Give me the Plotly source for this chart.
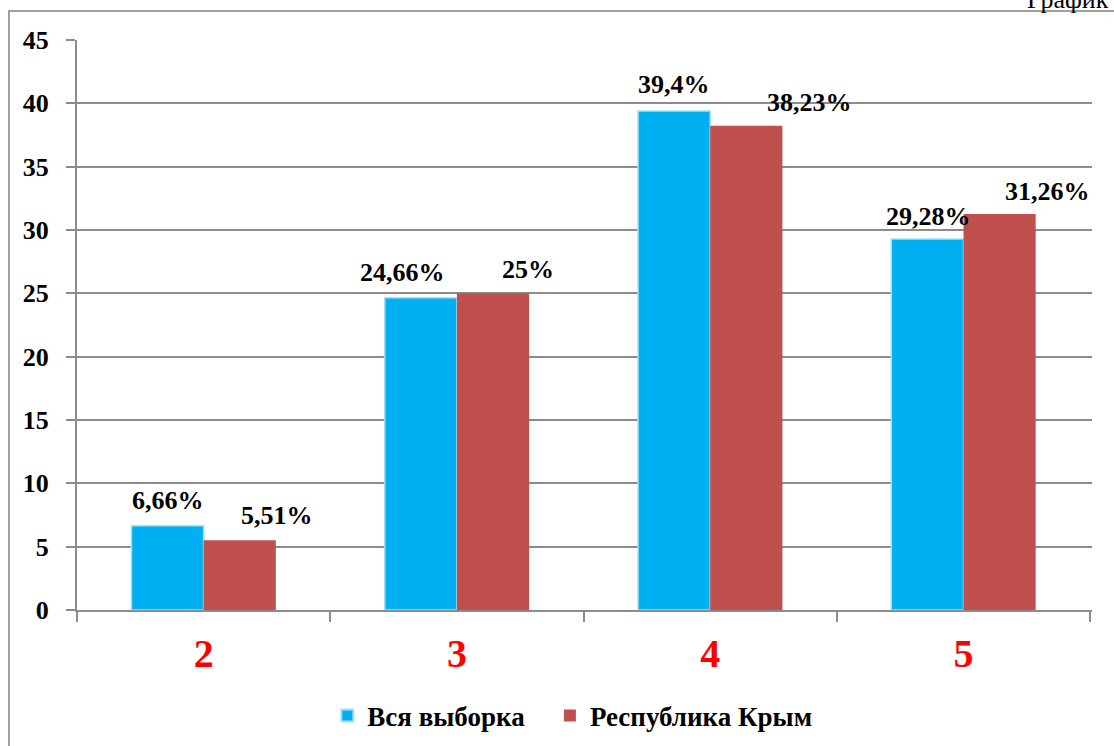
import plotly.graph_objects as go

categories = ["2", "3", "4", "5"]
vsya = [6.66, 24.66, 39.4, 29.28]
krym = [5.51, 25.0, 38.23, 31.26]
vsya_labels = ["6,66%", "24,66%", "39,4%", "29,28%"]
krym_labels = ["5,51%", "25%", "38,23%", "31,26%"]
names = ["Вся выборка", "Республика Крым"]

# label placement offsets (pixels), as manually positioned in the original
vsya_dx = [-36, -54, -36, -35]
vsya_dy = [25, 25, 26, 23]
krym_dx = [73, 71, 99, 84]
krym_dy = [25, 24, 23, 23]

W, H = 1114, 746
L, R, T, B = 77, 22, 40, 136
pw, ph = W - L - R, H - T - B

font_family = "Times New Roman, Liberation Serif, serif"


def b(s):
    return "<b>" + s + "</b>"


fig = go.Figure()
fig.add_trace(go.Bar(x=categories, y=vsya, name=b(names[0]) + "\u00a0\u00a0\u00a0",
                     marker=dict(color="#00B0F0", line=dict(color="#A6DDF2", width=1.5))))
fig.add_trace(go.Bar(x=categories, y=krym, name=b(names[1]),
                     marker=dict(color="#C0504D", line=dict(color="#C0504D", width=0))))

annotations = []
for i, (v, t) in enumerate(zip(vsya, vsya_labels)):
    annotations.append(dict(x=i, y=v, text=b(t), xref="x", yref="y", showarrow=False,
                            xshift=vsya_dx[i], yshift=vsya_dy[i], yanchor="middle",
                            font=dict(family=font_family, size=26, color="black")))
for i, (v, t) in enumerate(zip(krym, krym_labels)):
    annotations.append(dict(x=i, y=v, text=b(t), xref="x", yref="y", showarrow=False,
                            xshift=krym_dx[i], yshift=krym_dy[i], yanchor="middle",
                            font=dict(family=font_family, size=26, color="black")))
annotations.append(dict(x=(1025 - L) / pw, y=(H - B - 16) / ph, xref="paper", yref="paper",
                        text="График", showarrow=False, xanchor="left", yanchor="bottom",
                        font=dict(family=font_family, size=26, color="black")))

fig.update_layout(
    width=W, height=H,
    margin=dict(l=L, r=R, t=T, b=B, autoexpand=False),
    paper_bgcolor="white", plot_bgcolor="white",
    barmode="group", bargap=0.43, bargroupgap=0,
    font=dict(family=font_family, color="black"),
    showlegend=True,
    legend=dict(orientation="h", x=0.488, xanchor="center", y=-(716 - 610) / ph, yanchor="middle",
                font=dict(family=font_family, size=27, color="black"),
                itemsizing="constant", traceorder="normal", itemwidth=30),
    xaxis=dict(type="category", showgrid=False, showline=True, linecolor="#8C8C8C", linewidth=2,
               ticks="outside", ticklen=10, tickcolor="#8C8C8C", tickwidth=2,
               tickson="boundaries", automargin=False, ticklabelstandoff=7,
               tickvals=categories, ticktext=[b(c) for c in categories],
               tickfont=dict(family=font_family, size=40, color="#FF0000")),
    yaxis=dict(range=[0, 45], dtick=5, showgrid=True, gridcolor="#8C8C8C", gridwidth=2,
               showline=True, linecolor="#8C8C8C", linewidth=2,
               ticks="outside", ticklen=9, tickcolor="#8C8C8C", tickwidth=2,
               zeroline=False, tickprefix="<b>", ticksuffix="</b>",
               ticklabelstandoff=12, automargin=False,
               tickfont=dict(family=font_family, size=26, color="black")),
    annotations=annotations,
    shapes=[dict(type="rect", xref="paper", yref="paper",
                 x0=(9 - L) / pw, x1=1.2, y0=-0.5, y1=(H - B - 11) / ph,
                 line=dict(color="#A0A0A0", width=2), fillcolor="rgba(0,0,0,0)")],
)

fig.write_html("out.html", config={"displayModeBar": False},
               post_script="document.body.style.margin='0';document.body.style.padding='0';")
